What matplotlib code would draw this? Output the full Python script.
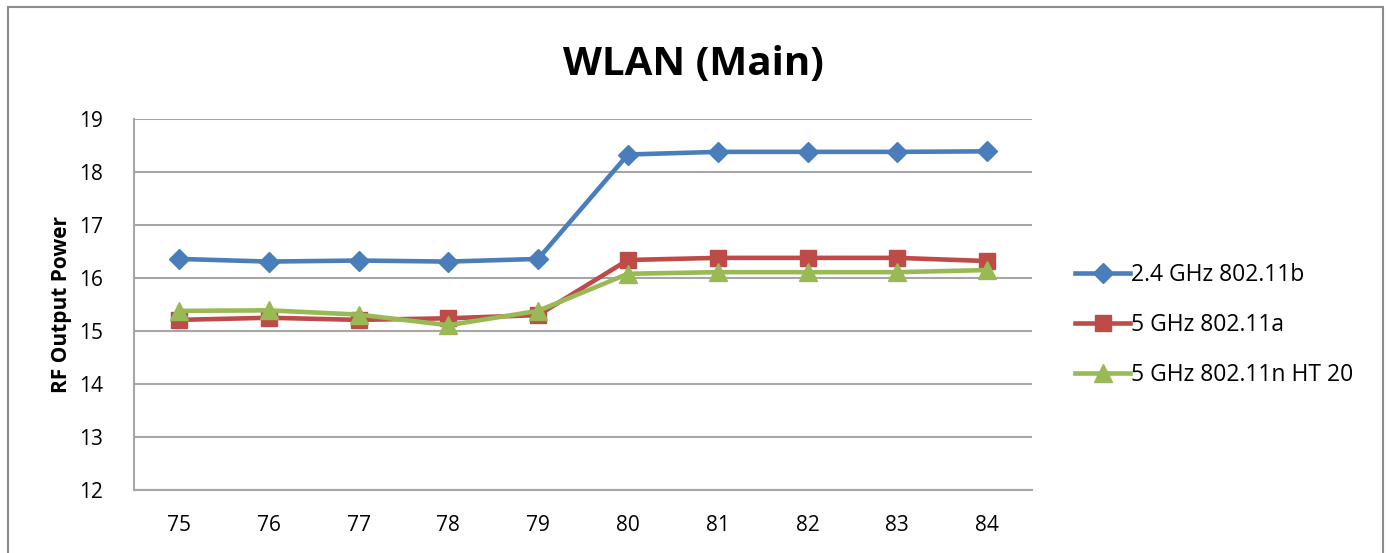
import numpy as np
import matplotlib
matplotlib.use("Agg")
import matplotlib.pyplot as plt
from matplotlib.patches import Rectangle

channels = ["75", "76", "77", "78", "79", "80", "81", "82", "83", "84"]
wlan_24b = [16.36, 16.31, 16.33, 16.31, 16.36, 18.33, 18.38, 18.38, 18.38, 18.39]
wlan_5a = [15.21, 15.25, 15.21, 15.24, 15.30, 16.34, 16.38, 16.38, 16.38, 16.32]
wlan_5n = [15.38, 15.39, 15.31, 15.11, 15.38, 16.08, 16.11, 16.11, 16.11, 16.15]

plt.rcParams["font.family"] = ["Open Sans", "DejaVu Sans"]

fig = plt.figure(figsize=(13.87, 5.53), dpi=100)
ax = fig.add_axes([0.0966, 0.1139, 0.6475, 0.6709])

x = np.arange(len(channels))
ax.plot(x, wlan_24b, color="#4A7EBB", lw=3.3, marker="D", ms=10, label="2.4 GHz 802.11b")
ax.plot(x, wlan_5a, color="#BE4B48", lw=3.3, marker="s", ms=12, label="5 GHz 802.11a")
ax.plot(x, wlan_5n, color="#98B954", lw=3.3, marker="^", ms=13, label="5 GHz 802.11n HT 20")

ax.set_xlim(-0.5, len(channels) - 0.5)
ax.set_ylim(12, 19)
ax.set_xticks(x)
ax.set_xticklabels(channels)
ax.set_yticks(range(12, 20))
ax.grid(axis="y", color="#A6A6A6", lw=1.5)
ax.set_axisbelow(True)
for s in ["top", "right"]:
    ax.spines[s].set_visible(False)
for s in ["left", "bottom"]:
    ax.spines[s].set_color("#A6A6A6")
    ax.spines[s].set_linewidth(1.5)
ax.tick_params(length=0, labelsize=15, pad=18)
ax.tick_params(axis="y", pad=22)
ax.set_ylabel("RF Output Power", fontsize=15, fontweight="bold", labelpad=5)

fig.suptitle("WLAN (Main)", x=0.5, y=0.918, fontsize=29, fontweight="bold")

ax.legend(loc="center left", bbox_to_anchor=(1.025, 0.445), frameon=False,
          fontsize=16.5, handlelength=2.4, labelspacing=1.15, handletextpad=0.05)

fig.patches.append(Rectangle((0.006, -0.1), 0.991, 1.087, transform=fig.transFigure,
                             fill=False, edgecolor="#8C8C8C", lw=1.5))

fig.savefig("out.png", dpi=100)
